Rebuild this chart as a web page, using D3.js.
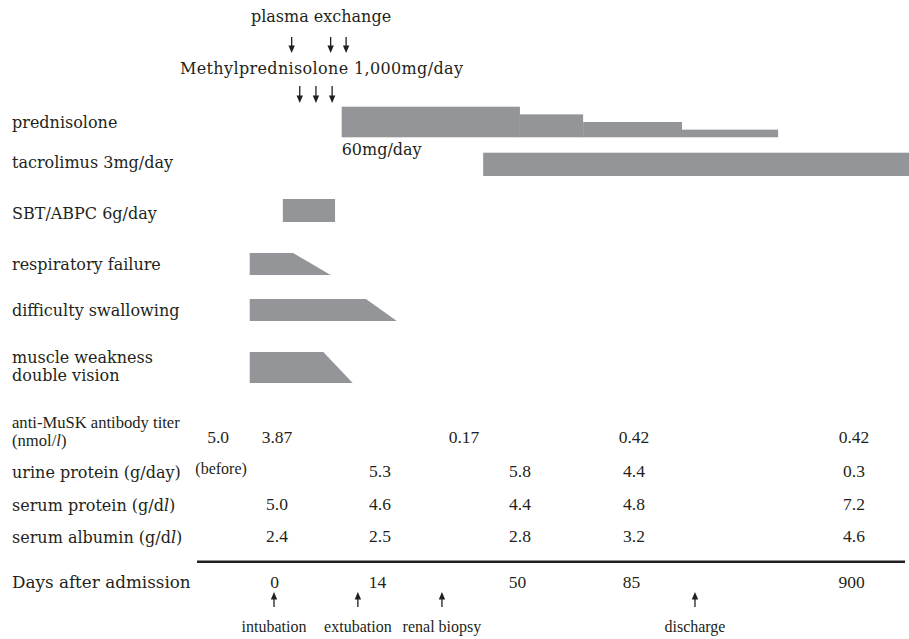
<!DOCTYPE html>
<html>
<head>
<meta charset="utf-8">
<script src="https://cdn.jsdelivr.net/npm/d3@7"></script>
<style>
  body { margin: 0; background: #fff; }
  .lbl { font-family: "DejaVu Serif", serif; font-size: 16px; fill: #231f20; }
  .num { font-family: "Liberation Serif", serif; font-size: 17.5px; fill: #231f20; }
  .small { font-family: "Liberation Serif", serif; font-size: 16px; fill: #231f20; }
</style>
</head>
<body>
<svg width="909" height="639"></svg>
<script>
// days shown on the bottom row (axis is not linear)
const dayTicks = [0, 14, 50, 85, 900];
const dayPos = [274, 377, 517, 631, 851];

// treatments
const plasmaExchange = [2.4, 7.7, 9.8];
const methylpred = [3.5, 5.7, 7.9];
const predStart = [9.2, 50.9, 70.3, 274];
const predEnd = [50.9, 70.3, 274, 630];
const predDose = [60, 45, 30, 15];
const tacrolimus = [41.3, 1115];
const sbtAbpc = [1.2, 8.3];

// symptoms: start, end of top edge, end of bottom edge
const symptoms = ["respiratory failure", "difficulty swallowing", "muscle weakness"];
const symStart = [-3.3, -3.3, -3.3];
const symTopEnd = [2.6, 12.5, 6.7];
const symBottomEnd = [7.7, 19.1, 10.7];

// lab values
const titerDays = [0, 35.6, 85, 900];
const titer = ["3.87", "0.17", "0.42", "0.42"];
const titerBefore = ["5.0", -7.6];
const urineDays = [14, 50, 85, 900];
const urine = ["5.3", "5.8", "4.4", "0.3"];
const labDays = [0, 14, 50, 85, 900];
const serumProtein = ["5.0", "4.6", "4.4", "4.8", "7.2"];
const serumAlbumin = ["2.4", "2.5", "2.8", "3.2", "4.6"];

// events below the axis
const events = ["intubation", "extubation", "renal biopsy", "discharge"];
const eventDays = [0, 11.4, 30.7, 322];

const svg = d3.select("svg");
const GRAY = "#939598";
const INK = "#231f20";

// piecewise scale, extrapolates outside the ticks
const x = d3.scaleLinear().domain(dayTicks).range(dayPos);
const doseH = d3.scaleLinear().domain([0, 60]).range([0, 30.6]);

function arrow(g, cx, y0, y1) {
    // line from y0 to y1, head at y1
    const dir = y1 > y0 ? 1 : -1;
    g.append("line")
        .attr("x1", cx).attr("x2", cx)
        .attr("y1", y0).attr("y2", y1 - dir * 5)
        .attr("stroke", INK).attr("stroke-width", 1.3);
    g.append("path")
        .attr("d", `M${cx - 3.2},${y1 - dir * 7.5} L${cx + 3.2},${y1 - dir * 7.5} L${cx},${y1} Z`)
        .attr("fill", INK);
}

// left labels
const leftLabels = [
    ["prednisolone", 128, "lbl"],
    ["tacrolimus 3mg/day", 168, "lbl"],
    ["SBT/ABPC 6g/day", 219, "lbl"],
    ["respiratory failure", 270, "lbl"],
    ["difficulty swallowing", 316, "lbl"],
    ["muscle weakness", 363, "lbl"],
    ["double vision", 381, "lbl"]
];
svg.append("g").selectAll("text")
    .data(leftLabels)
    .enter().append("text")
    .attr("class", d => d[2])
    .attr("x", 12)
    .attr("y", d => d[1])
    .text(d => d[0]);
svg.append("text").attr("class", "small").attr("x", 12).attr("y", 428)
    .style("font-size", "16.6px").text("anti-MuSK antibody titer");

function unitLabel(y, pre, post, cls) {
    const t = svg.append("text").attr("class", cls).attr("x", 12).attr("y", y);
    t.append("tspan").text(pre);
    t.append("tspan").attr("font-style", "italic").text("l");
    t.append("tspan").text(post);
    return t;
}
unitLabel(446, "(nmol/", ")", "small").style("font-size", "16.6px");
svg.append("text").attr("class", "lbl").attr("x", 12).attr("y", 478).text("urine protein (g/day)");
unitLabel(511, "serum protein (g/d", ")", "lbl");
unitLabel(543, "serum albumin (g/d", ")", "lbl");

// top annotations
svg.append("text").attr("class", "lbl").attr("x", 321).attr("y", 22)
    .attr("text-anchor", "middle").text("plasma exchange");
const topArrows = svg.append("g");
plasmaExchange.forEach(d => arrow(topArrows, x(d), 37, 53));
svg.append("text").attr("class", "lbl").attr("x", 180).attr("y", 74)
    .attr("textLength", 283).text("Methylprednisolone 1,000mg/day");
methylpred.forEach(d => arrow(topArrows, x(d), 86, 103));

// prednisolone taper
svg.append("g").selectAll("rect")
    .data(predDose)
    .enter().append("rect")
    .attr("x", (d, i) => x(predStart[i]))
    .attr("width", (d, i) => x(predEnd[i]) - x(predStart[i]))
    .attr("y", d => 137.3 - doseH(d))
    .attr("height", d => doseH(d))
    .attr("fill", GRAY);
svg.append("text").attr("class", "lbl").attr("x", x(predStart[0])).attr("y", 155).text("60mg/day");

// tacrolimus and antibiotics
svg.append("rect")
    .attr("x", x(tacrolimus[0])).attr("width", x(tacrolimus[1]) - x(tacrolimus[0]))
    .attr("y", 152.7).attr("height", 23.3).attr("fill", GRAY);
svg.append("rect")
    .attr("x", x(sbtAbpc[0])).attr("width", x(sbtAbpc[1]) - x(sbtAbpc[0]))
    .attr("y", 199).attr("height", 23).attr("fill", GRAY);

// symptom trapezoids
const symY = [[253, 275], [299, 321], [352, 383]];
svg.append("g").selectAll("path")
    .data(symptoms)
    .enter().append("path")
    .attr("d", (d, i) => {
        const [y0, y1] = symY[i];
        return `M${x(symStart[i])},${y0} L${x(symTopEnd[i])},${y0} L${x(symBottomEnd[i])},${y1} L${x(symStart[i])},${y1} Z`;
    })
    .attr("fill", GRAY);

// lab value rows
function valueRow(vals, ds, y) {
    svg.append("g").selectAll("text")
        .data(vals)
        .enter().append("text")
        .attr("class", "num")
        .attr("text-anchor", "middle")
        .attr("x", (d, i) => x(ds[i]) + 3)
        .attr("y", y)
        .text(d => d);
}
valueRow(titer, titerDays, 443);
svg.append("text").attr("class", "num").attr("text-anchor", "middle")
    .attr("x", x(titerBefore[1])).attr("y", 443).text(titerBefore[0]);
svg.append("text").attr("class", "small").attr("text-anchor", "middle")
    .attr("x", x(titerBefore[1]) + 3).attr("y", 474).text("(before)");
valueRow(urine, urineDays, 477);
valueRow(serumProtein, labDays, 510);
valueRow(serumAlbumin, labDays, 542);

// rule above the day row
svg.append("line")
    .attr("x1", 197).attr("x2", 905)
    .attr("y1", 561.7).attr("y2", 561.7)
    .attr("stroke", INK).attr("stroke-width", 2.6);

// day axis
const axis = svg.append("g")
    .attr("transform", "translate(0,588)")
    .call(d3.axisBottom(x).tickValues(dayTicks).tickSize(0).tickPadding(0));
axis.select(".domain").remove();
axis.attr("font-size", null).attr("font-family", null);
axis.selectAll("text")
    .attr("class", "num")
    .attr("fill", null)
    .attr("dy", 0);
svg.append("text").attr("class", "lbl").attr("x", 12).attr("y", 588)
    .style("font-size", "16.8px").text("Days after admission");

// events
const ev = svg.append("g");
eventDays.forEach(d => arrow(ev, x(d), 607, 592));
ev.selectAll("text")
    .data(events)
    .enter().append("text")
    .attr("class", "small")
    .attr("text-anchor", "middle")
    .attr("x", (d, i) => x(eventDays[i]))
    .attr("y", 632)
    .text(d => d);
</script>
</body>
</html>
